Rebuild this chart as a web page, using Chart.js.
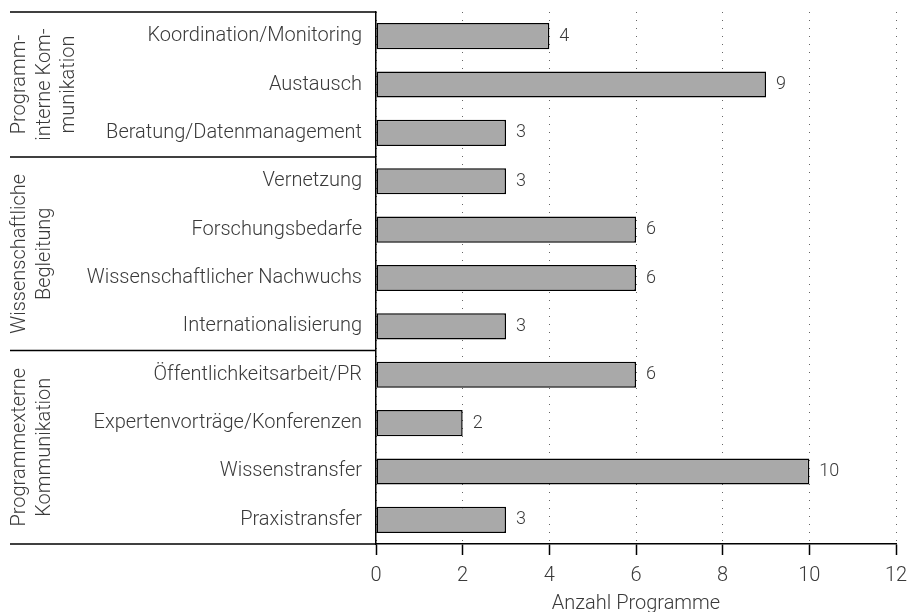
<!DOCTYPE html>
<html>
<head>
<meta charset="utf-8">
<script src="https://cdn.jsdelivr.net/npm/chart.js@4"></script>
<style>
  html, body { margin: 0; padding: 0; background: #fff; }
  #wrap { width: 907px; height: 612px; }
</style>
</head>
<body>
<div id="wrap"><canvas id="chartProgramme"></canvas></div>
<script>
// Kategorien und Werte
const categories = [
  "Koordination/Monitoring", "Austausch", "Beratung/Datenmanagement",
  "Vernetzung", "Forschungsbedarfe", "Wissenschaftlicher Nachwuchs", "Internationalisierung",
  "Öffentlichkeitsarbeit/PR", "Expertenvorträge/Konferenzen", "Wissenstransfer", "Praxistransfer"
];
const values = [4, 9, 3, 3, 6, 6, 3, 6, 2, 10, 3];
const groupNames = [
  ["Programm-", "interne Kom-", "munikation"],
  ["Wissenschaftliche", "Begleitung"],
  ["Programmexterne", "Kommunikation"]
];
const groupSizes = [3, 4, 4];
const xTicks = [0, 2, 4, 6, 8, 10, 12];

const FONT = "Roboto";
const TEXT = "#3a3a3a";

// === Gruppen links + Trennlinien + Werte ===
const groupPlugin = {
  id: "groups",
  afterDraw(chart) {
    const { ctx, chartArea } = chart;
    const y = chart.scales.y;
    const step = (chartArea.bottom - chartArea.top) / categories.length;
    ctx.save();
    ctx.strokeStyle = "#000";
    ctx.lineWidth = 1.5;
    let idx = 0;
    const edges = [0];
    groupSizes.forEach(n => { idx += n; edges.push(idx); });
    edges.forEach(e => {
      const py = y.getPixelForValue(e) - step / 2;
      ctx.beginPath();
      ctx.moveTo(10, py);
      ctx.lineTo(chartArea.left, py);
      ctx.stroke();
    });
    // Gruppentitel, gedreht
    ctx.fillStyle = TEXT;
    ctx.font = "300 20px " + FONT;
    ctx.textAlign = "center";
    ctx.textBaseline = "middle";
    groupNames.forEach((lines, g) => {
      const top = y.getPixelForValue(edges[g]) - step / 2;
      const bot = y.getPixelForValue(edges[g + 1]) - step / 2;
      const cy = (top + bot) / 2;
      lines.forEach((line, i) => {
        ctx.save();
        ctx.translate(20 + i * 24.5, cy);
        ctx.rotate(-Math.PI / 2);
        ctx.fillText(line, 0, 0);
        ctx.restore();
      });
    });
    // Werte an den Balken
    const meta = chart.getDatasetMeta(0);
    ctx.font = "300 18px " + FONT;
    ctx.textAlign = "left";
    meta.data.forEach((bar, i) => {
      ctx.fillText(String(values[i]), bar.x + 10, bar.y);
    });
    ctx.restore();
  }
};

new Chart(document.getElementById("chartProgramme"), {
  type: "bar",
  data: {
    labels: categories,
    datasets: [{
      data: values,
      backgroundColor: "#a9a9a9",
      borderColor: "#000",
      borderWidth: 1.5,
      borderSkipped: false,
      barPercentage: 0.54,
      categoryPercentage: 1
    }]
  },
  options: {
    indexAxis: "y",
    responsive: true,
    maintainAspectRatio: false,
    animation: false,
    layout: { padding: { top: 12, right: 11, bottom: 0, left: 0 } },
    plugins: { legend: { display: false }, tooltip: { enabled: false } },
    scales: {
      x: {
        min: 0,
        max: 12,
        afterBuildTicks: s => { s.ticks = xTicks.map(v => ({ value: v })); },
        afterFit: s => { s.height = 68; s.paddingLeft = 0; s.paddingRight = 0; },
        grid: {
          color: "#666",
          lineWidth: 1,
          tickLength: 11,
          tickColor: "#000",
          tickWidth: 1.5,
          tickBorderDash: [1, 0]
        },
        border: { display: true, color: "#000", width: 1.5, dash: [1, 7] },
        ticks: { color: TEXT, font: { family: FONT, size: 20, weight: "300" }, padding: 9 },
        title: {
          display: true,
          text: "Anzahl Programme",
          color: TEXT,
          font: { family: FONT, size: 20, weight: "300", lineHeight: 0.8 },
          padding: { top: 0, bottom: 0 }
        }
      },
      y: {
        afterFit: s => { s.width = 376; s.paddingTop = 0; s.paddingBottom = 0; },
        grid: { display: false },
        border: { display: true, color: "#000", width: 1.5 },
        ticks: { color: TEXT, font: { family: FONT, size: 20, weight: "300" }, padding: 6 }
      }
    }
  },
  plugins: [groupPlugin]
});
</script>
</body>
</html>
